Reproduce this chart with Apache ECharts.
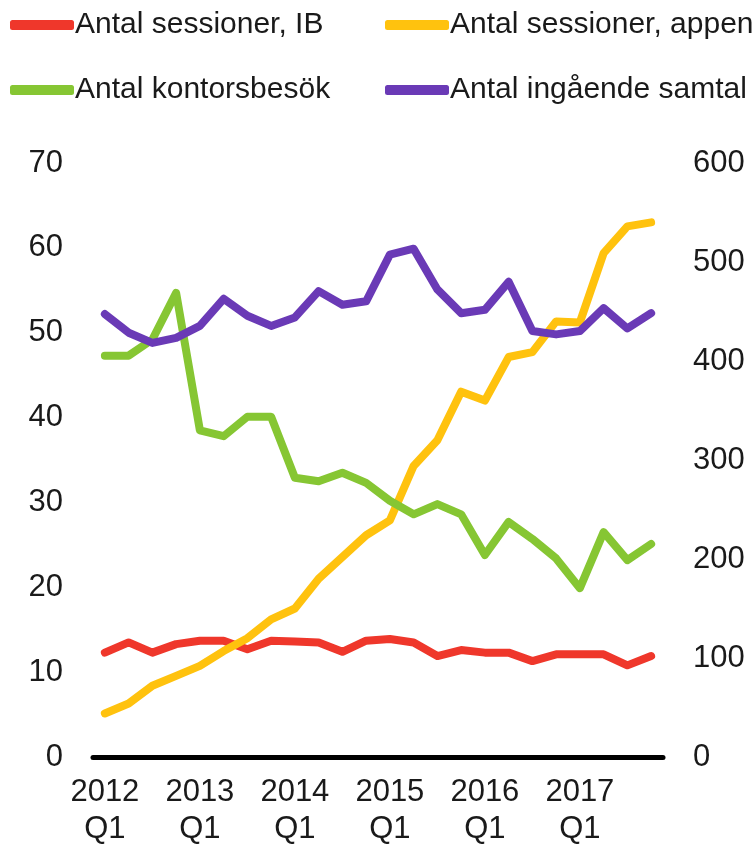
<!DOCTYPE html>
<html>
<head>
<meta charset="utf-8">
<script src="https://cdn.jsdelivr.net/npm/echarts@6/dist/echarts.min.js"></script>
<style>
html,body{margin:0;padding:0;background:#fff;}
#chart{width:756px;height:848px;}
</style>
</head>
<body>
<div id="chart"></div>
<script>
// Quarters 2012 Q1 .. 2017 Q4
const categories = [
  "2012 Q1","2012 Q2","2012 Q3","2012 Q4",
  "2013 Q1","2013 Q2","2013 Q3","2013 Q4",
  "2014 Q1","2014 Q2","2014 Q3","2014 Q4",
  "2015 Q1","2015 Q2","2015 Q3","2015 Q4",
  "2016 Q1","2016 Q2","2016 Q3","2016 Q4",
  "2017 Q1","2017 Q2","2017 Q3","2017 Q4"
];
// left axis
const sessionerIB = [12.3,13.5,12.3,13.3,13.7,13.7,12.7,13.7,13.6,13.5,12.4,13.7,13.9,13.5,11.9,12.6,12.3,12.3,11.3,12.1,12.1,12.1,10.8,11.9];
// right axis
const sessionerAppen = [44,54,72,82,92,107,120,139,150,180,202,224,239,294,320,369,360,404,409,440,439,509,536,540];
// left axis
const kontorsbesok = [47.3,47.3,49.2,54.7,38.5,37.8,40.1,40.1,32.9,32.5,33.5,32.3,30.2,28.6,29.8,28.6,23.8,27.7,25.7,23.4,19.9,26.5,23.2,25.1];
// left axis
const ingaendeSamtal = [52.2,50.0,48.8,49.4,50.8,54.0,52.0,50.8,51.8,54.9,53.3,53.7,59.2,59.9,55.1,52.3,52.7,56.0,50.2,49.8,50.2,52.9,50.5,52.3];

const leftTicks = {min:0, max:70, interval:10};
const rightTicks = {min:0, max:600, interval:100};

const names = ["Antal sessioner, IB","Antal sessioner, appen","Antal kontorsbesök","Antal ingående samtal"];
const colors = ["#EF372B","#FFC20E","#86C633","#6A3AB6"];
const FONT = "'Liberation Sans Narrow', 'Liberation Sans', sans-serif";
const TXT = "#1a1a1a";

const chart = echarts.init(document.getElementById('chart'), null, {renderer:'canvas'});

function legendAt(name, left, top){
  return {
    data:[name], left:left, top:top, orient:'horizontal',
    icon:'roundRect', itemWidth:64, itemHeight:10, itemGap:0,
    padding:0,
    textStyle:{fontFamily:FONT, fontSize:30, color:TXT, padding:[0,0,0,-4]},
    selectedMode:false
  };
}

function mkSeries(i, data, yIdx){
  return {
    name:names[i], type:'line', data:data, yAxisIndex:yIdx,
    showSymbol:false, symbol:'none', smooth:false,
    itemStyle:{color:colors[i]},
    lineStyle:{color:colors[i], width:8, cap:'round', join:'round'},
    emphasis:{disabled:true}, z:2+i
  };
}

chart.setOption({
  animation:false,
  backgroundColor:'#fff',
  legend:[
    legendAt(names[0], 10, 10),
    legendAt(names[1], 385, 10),
    legendAt(names[2], 10, 75),
    legendAt(names[3], 385, 75)
  ],
  grid:{left:93, right:93, top:163, bottom:84, containLabel:false},
  xAxis:{
    type:'category', data:categories, boundaryGap:true,
    axisLine:{show:true, lineStyle:{color:'#000', width:5}},
    axisTick:{show:false},
    axisLabel:{
      interval:3, margin:17, color:TXT, fontFamily:FONT, fontSize:31, lineHeight:37,
      formatter:function(v){ return v.replace(' ', '\n'); }
    },
    splitLine:{show:false}
  },
  yAxis:[
    {type:'value', min:leftTicks.min, max:leftTicks.max, interval:leftTicks.interval, position:'left',
     axisLine:{show:false}, axisTick:{show:false}, splitLine:{show:false},
     axisLabel:{color:TXT, fontFamily:FONT, fontSize:31, margin:30}},
    {type:'value', min:rightTicks.min, max:rightTicks.max, interval:rightTicks.interval, position:'right',
     axisLine:{show:false}, axisTick:{show:false}, splitLine:{show:false},
     axisLabel:{color:TXT, fontFamily:FONT, fontSize:31, margin:30}}
  ],
  series:[
    mkSeries(0, sessionerIB, 0),
    mkSeries(1, sessionerAppen, 1),
    mkSeries(2, kontorsbesok, 0),
    mkSeries(3, ingaendeSamtal, 0)
  ]
});
</script>
</body>
</html>
